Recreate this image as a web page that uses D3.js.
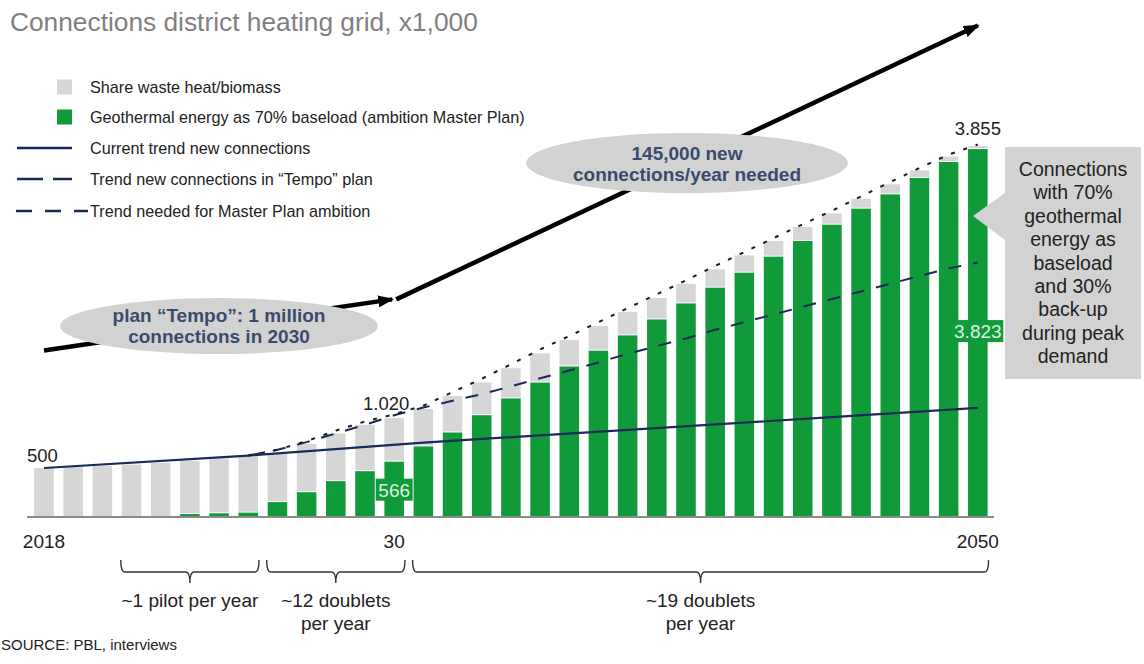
<!DOCTYPE html>
<html lang="en">
<head>
<meta charset="UTF-8" />
<title>Connections district heating grid</title>
<script src="https://d3js.org/d3.v7.min.js"></script>
<style>
  body { margin: 0; background: #fff; }
  svg { display: block; font-family: "Liberation Sans", Arial, sans-serif; }
</style>
</head>
<body>
<script>
// data, x1,000 connections
const years = [2018, 2019, 2020, 2021, 2022, 2023, 2024, 2025, 2026, 2027, 2028,
  2029, 2030, 2031, 2032, 2033, 2034, 2035, 2036, 2037, 2038, 2039, 2040,
  2041, 2042, 2043, 2044, 2045, 2046, 2047, 2048, 2049, 2050];
const totalConnections = [500, 510, 520, 535, 553, 575, 600, 622, 650, 750, 860,
  950, 1020, 1115, 1250, 1390, 1540, 1695, 1835, 1980, 2125, 2272, 2418,
  2570, 2716, 2865, 3011, 3153, 3306, 3456, 3602, 3744, 3855];
const geothermal = [0, 0, 0, 0, 0, 20, 28, 35, 145, 248, 363,
  467, 566, 725, 870, 1050, 1225, 1390, 1558, 1722, 1882, 2048, 2215,
  2379, 2535, 2702, 2865, 3035, 3202, 3351, 3522, 3688, 3823];

const currentTrendYears = [2018, 2025, 2031, 2045, 2050];
const currentTrend = [500, 630, 765, 1030, 1126];

const tempoYears = [2025, 2026, 2027, 2028, 2029, 2030, 2031, 2032, 2033, 2034, 2035,
  2036, 2037, 2038, 2039, 2040, 2041, 2042, 2043, 2044, 2045, 2046, 2047, 2048, 2049, 2050];
const tempoTrend = [630, 690, 770, 860, 950, 1050, 1130, 1200, 1270, 1350, 1435,
  1515, 1600, 1690, 1770, 1850, 1940, 2020, 2100, 2180, 2260, 2340, 2420, 2500, 2580, 2640];
const masterPlanTrend = [630, 690, 780, 890, 985, 1060, 1150, 1290, 1430, 1580, 1735,
  1875, 2020, 2165, 2310, 2455, 2605, 2750, 2895, 3040, 3180, 3330, 3480, 3625, 3765, 3870];

const tickYears = [2018, 2030, 2050];
const tickLabels = ["2018", "30", "2050"];

const periodStart = [2021, 2026, 2031];
const periodEnd = [2025, 2030, 2050];
const periodLabels = [["~1 pilot per year"], ["~12 doublets", "per year"], ["~19 doublets", "per year"]];

const legendLabels = ["Share waste heat/biomass",
  "Geothermal energy as 70% baseload (ambition Master Plan)",
  "Current trend new connections",
  "Trend new connections in \u201cTempo\u201d plan",
  "Trend needed for Master Plan ambition"];

const calloutLines = ["Connections", "with 70%", "geothermal", "energy as",
  "baseload", "and 30%", "back-up", "during peak", "demand"];

// arrow path in chart units (year, value)
const arrowYears = [2018, 2030, 2050];
const arrowValues = [1725, 2257, 5110];

const GREEN = "#119a3a", GREY = "#d6d6d6", NAVY = "#1b2a58";

const width = 1144, height = 664;
const svg = d3.select("body").append("svg")
    .attr("width", width)
    .attr("height", height);

const x = d3.scaleBand()
    .domain(years)
    .range([29.4, 992.4])
    .paddingInner(0.33)
    .paddingOuter(0.165);
const cx = d => x(d) + x.bandwidth() / 2;

const y = d3.scaleLinear()
    .domain([0, 3855])
    .range([516, 146]);

// title
svg.append("text")
    .attr("x", 10).attr("y", 31)
    .attr("font-size", 26.3)
    .attr("fill", "#808080")
    .text("Connections district heating grid, x1,000");

// legend
const legend = svg.append("g").attr("font-size", 16.2).attr("fill", "#222");
const rowY = [87, 117, 148, 179, 211];
legend.append("rect").attr("x", 57).attr("y", rowY[0] - 7.5).attr("width", 15).attr("height", 15).attr("fill", GREY);
legend.append("rect").attr("x", 57).attr("y", rowY[1] - 7.5).attr("width", 15).attr("height", 15).attr("fill", GREEN);
legend.append("line").attr("x1", 17).attr("x2", 72).attr("y1", rowY[2]).attr("y2", rowY[2])
    .attr("stroke", NAVY).attr("stroke-width", 2.5);
legend.append("line").attr("x1", 17).attr("x2", 72).attr("y1", rowY[3]).attr("y2", rowY[3])
    .attr("stroke", NAVY).attr("stroke-width", 2.5).attr("stroke-dasharray", "26,10");
legend.append("line").attr("x1", 16).attr("x2", 88).attr("y1", rowY[4]).attr("y2", rowY[4])
    .attr("stroke", NAVY).attr("stroke-width", 2.5).attr("stroke-dasharray", "16,13");
legend.selectAll("text.lg")
    .data(legendLabels)
  .enter().append("text")
    .attr("class", "lg")
    .attr("x", 90)
    .attr("y", (d, i) => rowY[i] + 5.5)
    .text(d => d);

// arrows
const defs = svg.append("defs");
defs.append("marker")
    .attr("id", "head")
    .attr("markerUnits", "userSpaceOnUse")
    .attr("viewBox", "0 0 16 12")
    .attr("refX", 14).attr("refY", 6)
    .attr("markerWidth", 16).attr("markerHeight", 12)
    .attr("orient", "auto")
  .append("path")
    .attr("d", "M0,0 L16,6 L0,12 z")
    .attr("fill", "#000");

const arrows = svg.append("g");
for (let i = 0; i < arrowYears.length - 1; i++) {
  arrows.append("line")
      .attr("x1", cx(arrowYears[i]) + (i ? 2 : 0))
      .attr("y1", y(arrowValues[i]))
      .attr("x2", cx(arrowYears[i + 1]) - (i ? 0 : 2))
      .attr("y2", y(arrowValues[i + 1]))
      .attr("stroke", "#000")
      .attr("stroke-width", 4.5)
      .attr("marker-end", "url(#head)");
}

// bars
const bars = svg.append("g");
years.forEach((yr, i) => {
  const g = geothermal[i], t = totalConnections[i];
  bars.append("rect")
      .attr("x", x(yr))
      .attr("y", y(t))
      .attr("width", x.bandwidth())
      .attr("height", y(g) - y(t) - (g > 0 ? 1 : 0))
      .attr("fill", GREY);
  if (g > 0) {
    bars.append("rect")
        .attr("x", x(yr))
        .attr("y", y(g))
        .attr("width", x.bandwidth())
        .attr("height", y(0) - y(g))
        .attr("fill", GREEN);
  }
});

// axis line
svg.append("line")
    .attr("x1", 27).attr("x2", 994)
    .attr("y1", y(0) + 1).attr("y2", y(0) + 1)
    .attr("stroke", "#8a8a8a")
    .attr("stroke-width", 2);

// trend lines
const line = d3.line().x(d => cx(d[0])).y(d => y(d[1]));
svg.append("path")
    .datum(currentTrendYears.map((d, i) => [d, currentTrend[i]]))
    .attr("d", line)
    .attr("fill", "none").attr("stroke", NAVY).attr("stroke-width", 2.2);
svg.append("path")
    .datum(tempoYears.map((d, i) => [d, tempoTrend[i]]))
    .attr("d", line)
    .attr("fill", "none").attr("stroke", NAVY).attr("stroke-width", 2)
    .attr("stroke-dasharray", "13,12");
svg.append("path")
    .datum(tempoYears.map((d, i) => [d, masterPlanTrend[i]]))
    .attr("d", line)
    .attr("fill", "none").attr("stroke", "#141c30").attr("stroke-width", 2)
    .attr("stroke-dasharray", "4,9");

// value labels
const vl = svg.append("g").attr("fill", "#222").attr("font-size", 18.5);
vl.append("text").attr("x", 27).attr("y", y(totalConnections[0]) - 6).text("500");
vl.append("text").attr("x", cx(2030) - 8).attr("y", y(totalConnections[12]) - 8)
    .attr("text-anchor", "middle").text("1.020");
vl.append("text").attr("x", cx(2050)).attr("y", y(totalConnections[32]) - 11)
    .attr("text-anchor", "middle").text("3.855");

// green boxed labels
function boxLabel(xc, yb, w, txt) {
  svg.append("rect")
      .attr("x", xc - w / 2).attr("y", yb - 18)
      .attr("width", w).attr("height", 22)
      .attr("fill", GREEN);
  svg.append("text")
      .attr("x", xc).attr("y", yb)
      .attr("text-anchor", "middle")
      .attr("font-size", 19)
      .attr("fill", "#dcf3e2")
      .text(txt);
}
boxLabel(cx(2030), y(geothermal[12]) + 35, 37, "566");
boxLabel(cx(2050), y(geothermal[32]) + 189, 51, "3.823");

// ellipses
function bubble(xc, yc, rx, ry, lines, baseY) {
  svg.append("ellipse")
      .attr("cx", xc).attr("cy", yc).attr("rx", rx).attr("ry", ry)
      .attr("fill", "#d2d2d2");
  svg.append("g")
      .attr("font-size", 19).attr("font-weight", "bold").attr("fill", "#3b4b6d")
      .attr("text-anchor", "middle")
    .selectAll("text")
    .data(lines)
    .enter().append("text")
      .attr("x", xc)
      .attr("y", (d, i) => baseY + i * 21)
      .text(d => d);
}
bubble(219, 326, 159, 28, ["plan \u201cTempo\u201d: 1 million", "connections in 2030"], 322);
bubble(687, 163, 161, 30, ["145,000 new", "connections/year needed"], 160);

// callout
svg.append("path")
    .attr("d", "M1005,147 H1141 V379 H1005 V240 L973,216 L1005,193 Z")
    .attr("fill", "#d2d2d2");
svg.append("g")
    .attr("font-size", 19.5).attr("fill", "#222").attr("text-anchor", "middle")
  .selectAll("text")
  .data(calloutLines)
  .enter().append("text")
    .attr("x", 1073)
    .attr("y", (d, i) => 176 + i * 23.4)
    .text(d => d);

// x tick labels
svg.append("g").attr("font-size", 19).attr("fill", "#222").attr("text-anchor", "middle")
  .selectAll("text")
  .data(tickYears)
  .enter().append("text")
    .attr("x", d => cx(d))
    .attr("y", 548)
    .text((d, i) => tickLabels[i]);

// period braces
const braces = svg.append("g");
periodStart.forEach((s, i) => {
  const x0 = x(s) - 1, x1 = x(periodEnd[i]) + x.bandwidth() + 1, m = (x0 + x1) / 2;
  braces.append("path")
      .attr("d", `M${x0},560 Q${x0},572 ${x0 + 4},572 L${m - 4},572 Q${m},572 ${m},583`
        + ` M${m},583 Q${m},572 ${m + 4},572 L${x1 - 4},572 Q${x1},572 ${x1},560`)
      .attr("fill", "none").attr("stroke", "#333").attr("stroke-width", 1.4);
  braces.selectAll(null)
      .data(periodLabels[i])
    .enter().append("text")
      .attr("x", m)
      .attr("y", (d, j) => 607 + j * 23)
      .attr("text-anchor", "middle")
      .attr("font-size", 19)
      .attr("fill", "#222")
      .text(d => d);
});

svg.append("text")
    .attr("x", 1).attr("y", 650)
    .attr("font-size", 15).attr("fill", "#222")
    .text("SOURCE: PBL, interviews");
</script>
</body>
</html>
